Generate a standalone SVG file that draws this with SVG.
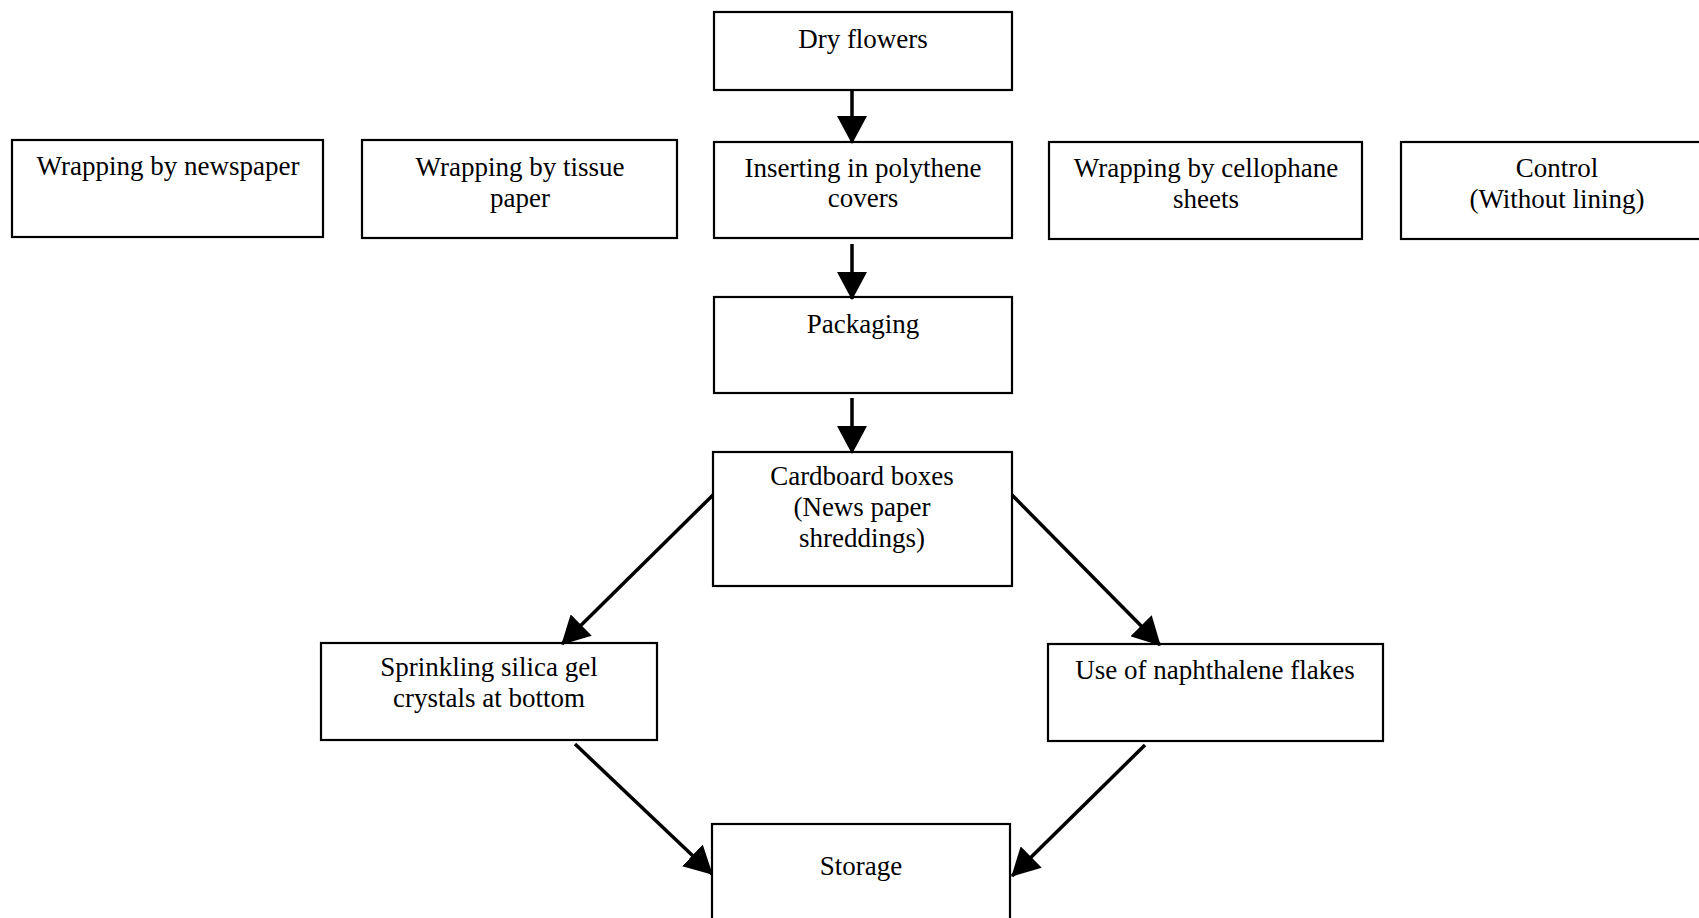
<svg xmlns="http://www.w3.org/2000/svg" width="1699" height="918" viewBox="0 0 1699 918">
<style>
.box{fill:#fff;stroke:#000;stroke-width:2.2}
.t{font-family:"Liberation Serif","Times New Roman",serif;font-size:27px;fill:#000;text-anchor:middle}
.c{stroke:#000;stroke-width:3.5;fill:none;marker-end:url(#ah)}
</style>
<defs>
<marker id="ah" viewBox="0 0 28 30" refX="27" refY="15" markerWidth="28" markerHeight="30" markerUnits="userSpaceOnUse" orient="auto">
<path d="M0,0 L28,15 L0,30 z" fill="#000"/>
</marker>
</defs>
<rect width="1699" height="918" fill="#fff"/>
<g id="dry">
<rect class="box" x="714" y="12" width="298" height="78"/>
<text class="t" x="863" y="48">Dry flowers</text>
</g>
<g id="newspaper">
<rect class="box" x="12" y="140" width="311" height="97"/>
<text class="t" x="168" y="175">Wrapping by newspaper</text>
</g>
<g id="tissue">
<rect class="box" x="362" y="140" width="315" height="98"/>
<text class="t" x="520" y="176">Wrapping by tissue</text>
<text class="t" x="520" y="207">paper</text>
</g>
<g id="polythene">
<rect class="box" x="714" y="142" width="298" height="96"/>
<text class="t" x="863" y="177">Inserting in polythene</text>
<text class="t" x="863" y="207">covers</text>
</g>
<g id="cellophane">
<rect class="box" x="1049" y="142" width="313" height="97"/>
<text class="t" x="1206" y="177">Wrapping by cellophane</text>
<text class="t" x="1206" y="208">sheets</text>
</g>
<g id="control">
<rect class="box" x="1401" y="142" width="312" height="97"/>
<text class="t" x="1557" y="177">Control</text>
<text class="t" x="1557" y="208">(Without lining)</text>
</g>
<g id="packaging">
<rect class="box" x="714" y="297" width="298" height="96"/>
<text class="t" x="863" y="333">Packaging</text>
</g>
<g id="cardboard">
<rect class="box" x="713" y="452" width="299" height="134"/>
<text class="t" x="862" y="485">Cardboard boxes</text>
<text class="t" x="862" y="516">(News paper</text>
<text class="t" x="862" y="547">shreddings)</text>
</g>
<g id="silica">
<rect class="box" x="321" y="643" width="336" height="97"/>
<text class="t" x="489" y="676">Sprinkling silica gel</text>
<text class="t" x="489" y="707">crystals at bottom</text>
</g>
<g id="naphthalene">
<rect class="box" x="1048" y="644" width="335" height="97"/>
<text class="t" x="1215" y="679">Use of naphthalene flakes</text>
</g>
<g id="storage">
<rect class="box" x="712" y="824" width="298" height="110"/>
<text class="t" x="861" y="875">Storage</text>
</g>
<g id="connectors">
<line class="c" x1="852" y1="90" x2="852" y2="143"/>
<line class="c" x1="852" y1="244" x2="852" y2="299"/>
<line class="c" x1="852" y1="398" x2="852" y2="453"/>
<line class="c" x1="713" y1="495" x2="562" y2="644"/>
<line class="c" x1="1012" y1="495" x2="1160" y2="645"/>
<line class="c" x1="575" y1="744" x2="712" y2="874"/>
<line class="c" x1="1145" y1="745" x2="1012" y2="876"/>
</g>
</svg>
